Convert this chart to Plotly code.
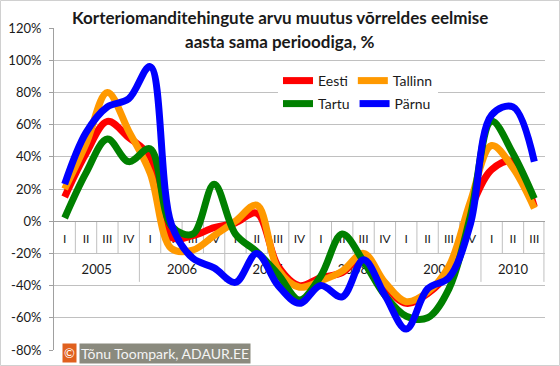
import plotly.graph_objects as go

quarters = ["I", "II", "III", "IV"] * 5 + ["I", "II", "III"]
years = ["2005", "2006", "2007", "2008", "2009", "2010"]
year_counts = [4, 4, 4, 4, 4, 3]

eesti   = [15, 42, 62, 52, 40, -10, -9, -4, -1, 5, -28, -40, -35, -32, -21, -40, -51, -45, -31, 7, 32, 37, 9]
tallinn = [20, 48, 80, 56, 30, -17, -18, -9, 0, 10, -30, -41, -37, -31, -20, -38, -50, -44, -28, 12, 47, 33, 8]
tartu   = [2, 30, 51, 37, 45, -3, -8, 23, -8, -19, -33, -49, -34, -8, -25, -46, -59, -60, -42, 3, 62, 42, 14]
parnu   = [23, 55, 71, 76, 96, -2, -23, -29, -38, -20, -40, -51, -40, -47, -24, -46, -67, -42, -35, -2, 66, 71, 37]

series = [("Eesti", eesti, "#ff0000"), ("Tallinn", tallinn, "#ff9900"),
          ("Tartu", tartu, "#008000"), ("Pärnu", parnu, "#0000ff")]

y_ticks = [-80, -60, -40, -20, 0, 20, 40, 60, 80, 100, 120]
y_ticktext = ["-80%", "-60%", "-40%", "-20%", "0%", "20%", "40%", "60%", "80%", "100%", "120%"]

FONT = "Lato, Calibri, sans-serif"
TXT = "#1a1a1a"
GRID = "#c0c0c0"

x_idx = list(range(len(quarters)))

year_centers = []
bounds = []
start = 0
for c in year_counts:
    year_centers.append(start + (c - 1) / 2)
    start += c
    bounds.append(start - 0.5)

fig = go.Figure()

fig.add_trace(go.Scatter(x=x_idx, y=[-11.7] * len(x_idx), mode="text", text=quarters,
                         textfont=dict(family=FONT, size=12, color=TXT),
                         showlegend=False, hoverinfo="skip"))
fig.add_trace(go.Scatter(x=year_centers, y=[-31] * len(years), mode="text", text=years,
                         textfont=dict(family=FONT, size=13, color=TXT),
                         showlegend=False, hoverinfo="skip"))

for i, (name, vals, col) in enumerate(series):
    fig.add_trace(go.Scatter(x=x_idx, y=vals, name=name, mode="lines",
                             line=dict(color=col, width=7, shape="spline", smoothing=1.0),
                             legend="legend" if i < 2 else "legend2"))

shapes = []
for i in range(len(quarters) - 1):
    b = i + 0.5
    y1 = -37.7 if b in bounds else -20
    shapes.append(dict(type="line", xref="x", yref="y", x0=b, x1=b, y0=0, y1=y1,
                       line=dict(color=GRID, width=1), layer="below"))
shapes.append(dict(type="line", xref="x", yref="y", x0=22.45, x1=22.45, y0=0, y1=-37.7,
                   line=dict(color=GRID, width=1), layer="below"))

W, H = 560, 366
L, R, T, B = 54, 15, 28, 16
pw, ph = W - L - R, H - T - B

def px(x):
    return (x - L) / pw

def py(y):
    return (H - B - y) / ph

shapes.append(dict(type="rect", xref="paper", yref="paper", x0=px(68), x1=px(492),
                   y0=py(56), y1=py(4), fillcolor="white", line=dict(width=0), layer="above"))
shapes.append(dict(type="rect", xref="paper", yref="paper", x0=px(0.5), x1=px(559.5),
                   y0=py(365.5), y1=py(0.5), line=dict(color="#d0d0d0", width=1)))

annotations = [
    dict(text="<b>Korteriomanditehingute arvu muutus võrreldes eelmise</b>", xref="paper", yref="paper",
         x=px(280), y=py(17), xanchor="center", yanchor="middle", showarrow=False,
         font=dict(family=FONT, size=17, color=TXT)),
    dict(text="<b>aasta sama perioodiga, %</b>", xref="paper", yref="paper",
         x=px(280), y=py(42), xanchor="center", yanchor="middle", showarrow=False,
         font=dict(family=FONT, size=17, color=TXT)),
    dict(text="©", xref="paper", yref="paper", x=px(69.5), y=py(353), xanchor="center",
         yanchor="middle", showarrow=False, bgcolor="#e0601e", borderpad=1,
         font=dict(family=FONT, size=13, color="white")),
    dict(text="Tõnu Toompark, ADAUR.EE", xref="paper", yref="paper", x=px(78.5), y=py(353),
         xanchor="left", yanchor="middle", showarrow=False, bgcolor="#8a8a7e", borderpad=1,
         font=dict(family=FONT, size=14, color="#f4f4f4")),
]

leg_common = dict(orientation="h", bgcolor="white", borderwidth=0,
                  xanchor="left", yanchor="top",
                  font=dict(family=FONT, size=14, color=TXT), itemclick=False)

fig.update_layout(
    width=W, height=H,
    margin=dict(l=L, r=R, t=T, b=B, autoexpand=False),
    paper_bgcolor="white", plot_bgcolor="white",
    font=dict(family=FONT, color=TXT),
    shapes=shapes, annotations=annotations,
    legend=dict(x=px(278), y=py(65), **leg_common),
    legend2=dict(x=px(278), y=py(88), **leg_common),
    xaxis=dict(range=[-0.5, 22.5], showticklabels=False, showgrid=False, zeroline=False,
               showline=False, ticks="", automargin=False),
    yaxis=dict(range=[-80, 120], tickvals=y_ticks, ticktext=y_ticktext, showgrid=True,
               gridcolor=GRID, gridwidth=1, zeroline=True, zerolinecolor="#a0a0a0",
               zerolinewidth=1, showline=True, linecolor="#a0a0a0", linewidth=1,
               ticks="outside", ticklen=4, tickcolor="#a0a0a0", ticklabelstandoff=5,
               automargin=False, tickfont=dict(family=FONT, size=13, color=TXT)),
)

fig.write_html("out.html", config={"displayModeBar": False},
               post_script="document.body.style.margin='0';document.body.style.padding='0';")
